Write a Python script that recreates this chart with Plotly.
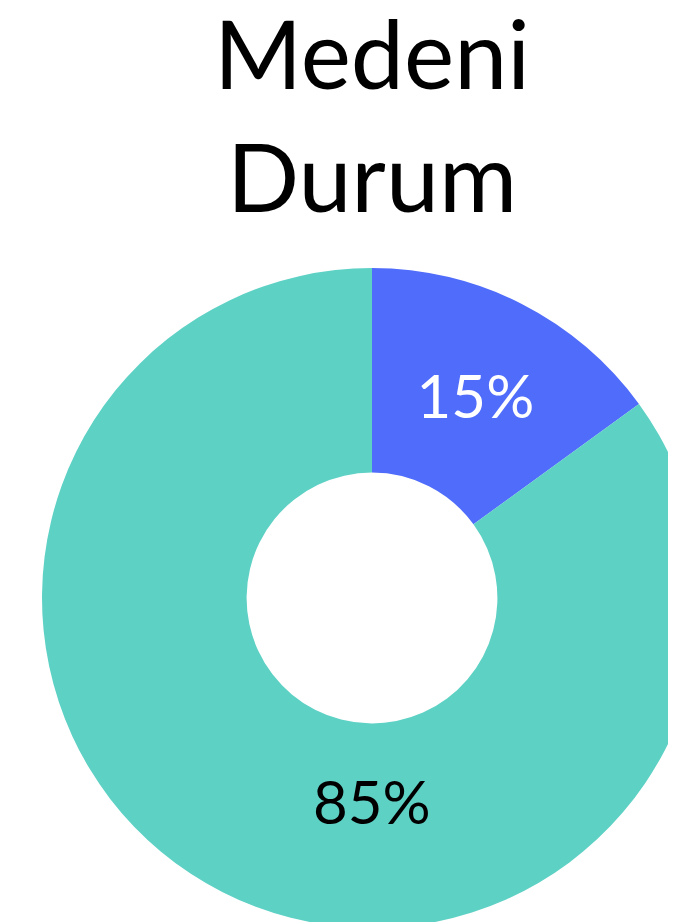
import plotly.graph_objects as go

labels = ["Evli", "Bekar"]
values = [15, 85]
colors = ["#4F6CFB", "#5ED1C5"]
text_colors = ["white", "black"]

total = sum(values)
pct = [f"{round(v / total * 100)}%" for v in values]

fig = go.Figure(go.Pie(
    labels=labels,
    values=values,
    hole=0.38,
    sort=False,
    direction="clockwise",
    rotation=0,
    texttemplate=[pct[0], ""],  # the big slice's label is placed below the hole
    textposition="inside",
    insidetextorientation="horizontal",
    textfont=dict(size=60, color=text_colors, family="Lato"),
    marker=dict(colors=colors, line=dict(width=0)),
    showlegend=False,
    hoverinfo="label+percent",
))

fig.add_annotation(text=pct[1], x=0.5, y=0.135, xref="paper", yref="paper",
                   showarrow=False, font=dict(size=60, color=text_colors[1], family="Lato"))

fig.update_layout(
    title=dict(text="Medeni<br>Durum", x=0.5, xanchor="center",
               y=0.912, yanchor="top", font=dict(size=95, color="black", family="Lato")),
    width=728, height=920,
    margin=dict(l=34, r=34, t=260, b=0),
    paper_bgcolor="white",
    plot_bgcolor="white",
)

fig.write_html("out.html")
